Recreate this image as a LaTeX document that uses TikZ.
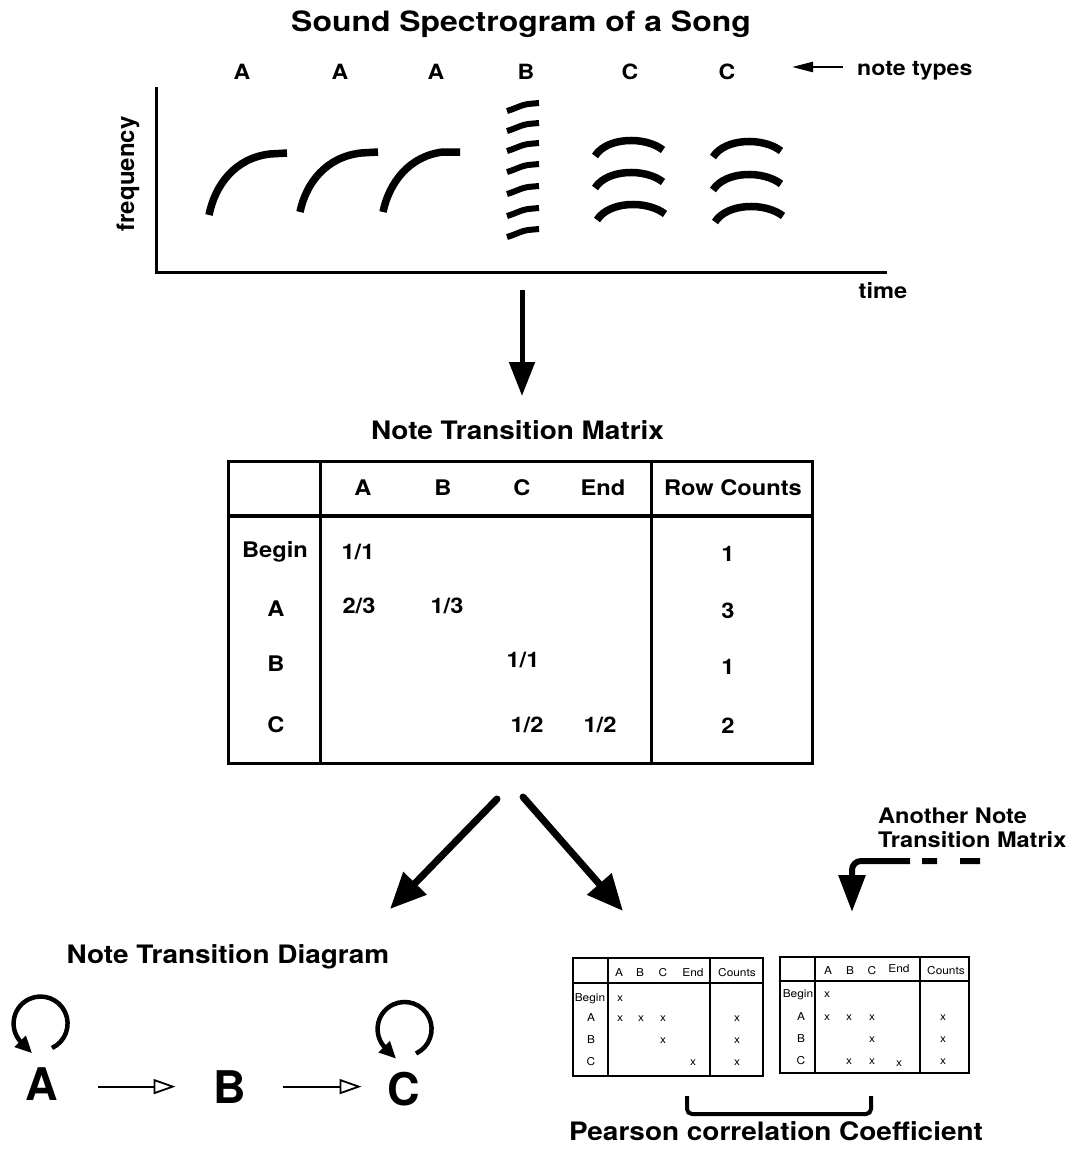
\documentclass[tikz,border=0pt]{standalone}
\usepackage{fontspec}
\setmainfont{TeX Gyre Heros}
\usetikzlibrary{arrows.meta}
\newcommand\fsz[1]{\fontsize{#1}{#1}\selectfont}
\begin{document}
\begin{tikzpicture}[x=1pt,y=1pt,
  bt/.style={inner sep=0pt, anchor=base},
  ttl/.style={bt, xscale=1.1, font=\fsz{25.4}\bfseries},
  tb/.style={bt, xscale=1.1, font=\fsz{21.5}\bfseries},
  nl/.style={bt, xscale=1.1, font=\fsz{21}\bfseries},
  sm/.style={bt, xscale=1.1, font=\fsz{10.8}},
  big/.style={bt, font=\fsz{45}\bfseries},
  note/.style={line width=7.5pt},
  bnote/.style={line width=6pt},
  axis/.style={line width=3pt},
  tbl/.style={line width=3pt},
  smt/.style={line width=2pt},
  fat/.style={line width=7pt, line cap=round, -{Triangle[length=36pt,width=31pt]}},
  downarr/.style={line width=5pt, -{Triangle[length=34pt,width=25pt]}},
  thinarr/.style={line width=2.5pt, -{Triangle[length=21pt,width=10pt]}},
  openarr/.style={line width=1.8pt, -{Triangle[open,length=22pt,width=15pt]}},
  looparr/.style={line width=4.5pt, -{Triangle[length=17pt,width=15pt]}},
  dasharr/.style={line width=6pt, rounded corners=9pt,
     dash pattern=on 20pt off 23pt on 15pt off 12pt on 400pt,
     -{Triangle[length=37pt,width=26pt]}},
]
\useasboundingbox (0,0) rectangle (1073,-1156);

% ---------- spectrogram ----------
\node[bt, xscale=1.14, font=\fsz{28}\bfseries] (title) at (521,-32) {Sound Spectrogram of a Song};
\node[nl] (na1) at (242,-79.5) {A};
\node[nl] (na2) at (340,-79.5) {A};
\node[nl] (na3) at (436,-79.5) {A};
\node[nl] (nb) at (526,-79.5) {B};
\node[nl] (nc1) at (630,-79.5) {C};
\node[nl] (nc2) at (727,-79.5) {C};
\node[bt, anchor=base west, xscale=1.1, font=\fsz{21}\bfseries] (ntypes) at (857,-75) {note types};
\coordinate (nts) at (843,-67);
\coordinate (nte) at (792,-67);
\draw[thinarr] (nts) -- (nte);

\coordinate (origin) at (156,-272);
\draw[axis] (156,-87) -- (origin) -- (887,-272);
\node[bt, rotate=90, font=\fsz{24}\bfseries] (freq) at (134,-174) {frequency};
\node[tb] (time) at (883,-298) {time};

% A notes
\draw[note] (209,-215) .. controls (215,-185) and (235,-158) .. (270,-154) -- (287,-153);
\draw[note] (300,-212) .. controls (306,-183) and (326,-157) .. (361,-153) -- (378,-152);
\draw[note] (383,-212) .. controls (389,-183) and (409,-156) .. (443,-152) -- (460,-152);
% B note
\foreach \yy in {107,127,147,168,190,212,233}{
  \draw[bnote] (507,-\yy-4) .. controls (517,-\yy-1) and (521,-\yy+2) .. (528,-\yy+3) -- (539,-\yy+4);
}
% C notes
\foreach \xx/\pp in {595/141,595/173,597/205,713/142,713/175,715/207}{
  \draw[note] (\xx,-\pp-15) .. controls (\xx+12,-\pp+4) and (\xx+50,-\pp+5) .. (\xx+68,-\pp-9);
}

% down arrow
\coordinate (d1s) at (522,-290);
\coordinate (d1e) at (522,-396);
\draw[downarr] (d1s) -- (d1e);

% ---------- transition matrix ----------
\node[ttl] (ntm) at (517.5,-439) {Note Transition Matrix};
\draw[tbl] (228,-461) rectangle (812,-763);
\draw[tbl] (320,-461) -- (320,-763);
\draw[tbl] (651,-461) -- (651,-763);
\draw[line width=4pt] (228,-516) -- (812,-516);

\node[tb] (hA) at (363,-495) {A};
\node[tb] (hB) at (443,-495) {B};
\node[tb] (hC) at (522,-495) {C};
\node[tb] (hE) at (603,-495) {End};
\node[tb] (hR) at (733,-495) {Row Counts};
\node[tb] (rBeg) at (275,-557) {Begin};
\node[tb] (rA) at (276,-616) {A};
\node[tb] (rB) at (276,-671) {B};
\node[tb] (rC) at (276,-732) {C};
\node[tb] (v1) at (358,-559) {1/1};
\node[tb] (v2) at (359,-613) {2/3};
\node[tb] (v3) at (447,-613) {1/3};
\node[tb] (v4) at (523,-667) {1/1};
\node[tb] (v5) at (527,-732) {1/2};
\node[tb] (v6) at (600,-732) {1/2};
\node[tb] (c1) at (728,-561) {1};
\node[tb] (c2) at (728,-618) {3};
\node[tb] (c3) at (728,-674) {1};
\node[tb] (c4) at (728,-733) {2};

% split arrows
\coordinate (ls) at (497,-799);
\coordinate (le) at (390,-909);
\coordinate (rs) at (523,-797);
\coordinate (re) at (623,-911);
\draw[fat] (ls) -- (le);
\draw[fat] (rs) -- (re);

% another matrix
\node[bt, anchor=base west, xscale=1.1, font=\fsz{21.4}\bfseries] (an1) at (878,-823) {Another Note};
\node[bt, anchor=base west, xscale=1.1, font=\fsz{21.4}\bfseries] (an2) at (878,-847) {Transition Matrix};
\coordinate (das) at (980,-861);
\coordinate (dac) at (852,-861);
\coordinate (dae) at (852,-912);
\draw[dasharr] (das) -- (dac) -- (dae);

% ---------- transition diagram ----------
\node[ttl] (ntd) at (228,-963) {Note Transition Diagram};
\node[big] (A) at (42,-1100) {A};
\node[big] (B) at (230,-1103) {B};
\node[big] (C) at (404,-1105) {C};
\draw[openarr, shorten <=40pt, shorten >=38pt] ([yshift=-3pt]A.east) -- ([yshift=-3pt]A.east -| B.west);
\draw[openarr, shorten <=37pt, shorten >=26pt] (B.east) -- (B.east -| C.west);
\draw[looparr] ([shift={(10,19)}]A.north) arc[start angle=-65, end angle=225, radius=27] -- ++(-45:15);
\draw[looparr] ([shift={(12,18)}]C.north) arc[start angle=-65, end angle=225, radius=27] -- ++(-45:15);

% ---------- small matrices ----------
\draw[smt] (573,-958) rectangle (763,-1076);
\draw[smt] (608,-958) -- (608,-1076);
\draw[smt] (710,-958) -- (710,-1076);
\draw[smt] (573,-983) -- (763,-983);
\node[sm] (lhA) at (619,-976) {A};
\node[sm] (lhB) at (640,-976) {B};
\node[sm] (lhC) at (663,-976) {C};
\node[sm] (lhE) at (693,-976) {End};
\node[sm] (lhN) at (737,-976) {Counts};
\node[sm] (lrBeg) at (590,-1001) {Begin};
\node[sm] (lrA) at (591,-1021) {A};
\node[sm] (lrB) at (591,-1043) {B};
\node[sm] (lrC) at (591,-1065) {C};
\node[sm] (lx1) at (620,-1001) {x};
\node[sm] (lx2) at (620,-1021) {x};
\node[sm] (lx3) at (641,-1021) {x};
\node[sm] (lx4) at (663,-1021) {x};
\node[sm] (lx5) at (737,-1021) {x};
\node[sm] (lx6) at (663,-1043) {x};
\node[sm] (lx7) at (737,-1043) {x};
\node[sm] (lx8) at (693,-1065) {x};
\node[sm] (lx9) at (737,-1065) {x};

\draw[smt] (780,-957) rectangle (969,-1073);
\draw[smt] (815,-957) -- (815,-1073);
\draw[smt] (920,-957) -- (920,-1073);
\draw[smt] (780,-981) -- (969,-981);
\node[sm] (rhA) at (828,-974) {A};
\node[sm] (rhB) at (850,-974) {B};
\node[sm] (rhC) at (872,-974) {C};
\node[sm] (rhE) at (899,-972) {End};
\node[sm] (rhN) at (946,-974) {Counts};
\node[sm] (rrBeg) at (798,-997) {Begin};
\node[sm] (rrA) at (801,-1020) {A};
\node[sm] (rrB) at (801,-1042) {B};
\node[sm] (rrC) at (801,-1064) {C};
\node[sm] (rx1) at (827,-997) {x};
\node[sm] (rx2) at (827,-1020) {x};
\node[sm] (rx3) at (849,-1020) {x};
\node[sm] (rx4) at (872,-1020) {x};
\node[sm] (rx5) at (943,-1020) {x};
\node[sm] (rx6) at (872,-1042) {x};
\node[sm] (rx7) at (943,-1042) {x};
\node[sm] (rx8) at (849,-1064) {x};
\node[sm] (rx9) at (872,-1064) {x};
\node[sm] (rx10) at (899,-1066) {x};
\node[sm] (rx11) at (943,-1064) {x};

% bracket
\coordinate (brl) at (687,-1096);
\coordinate (brr) at (871,-1096);
\draw[line width=4pt, rounded corners=5pt] (brl) -- ++(0,-18) -| (brr);
\node[ttl] (pcc) at (776,-1140) {Pearson correlation Coefficient};
\end{tikzpicture}
\end{document}
